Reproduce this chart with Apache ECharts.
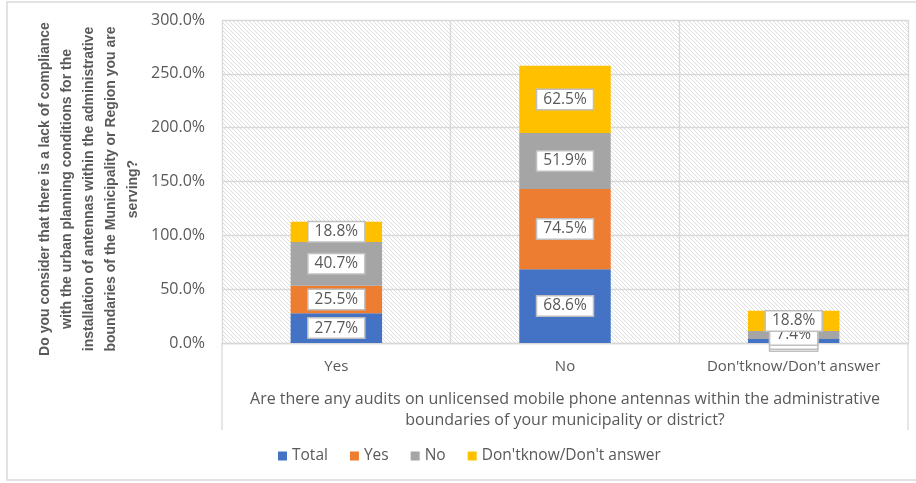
<!DOCTYPE html>
<html>
<head>
<meta charset="utf-8">
<script src="https://cdn.jsdelivr.net/npm/echarts@6/dist/echarts.min.js"></script>
<style>
  html, body { margin: 0; padding: 0; background: #ffffff; }
  #chart { width: 916px; height: 483px; }
</style>
</head>
<body>
<div id="chart"></div>
<script>
// Answers to the audit question (x axis categories)
const categories = ['Yes', 'No', "Don'tknow/Don't answer"];

// Answers to the compliance question, one stacked series each (percent)
const seriesNames = ['Total', 'Yes', 'No', "Don'tknow/Don't answer"];
const totalValues = [27.7, 68.6, 3.7];
const yesValues = [25.5, 74.5, 0.0];
const noValues = [40.7, 51.9, 7.4];
const dontKnowValues = [18.8, 62.5, 18.8];

// Value axis range
const yMin = 0;
const yMax = 300;
const yStep = 50;

const xTitle = 'Are there any audits on unlicensed mobile phone antennas within the administrative\nboundaries of your municipality or district?';
const yTitle = 'Do you consider that there is a lack of compliance\nwith the urban planning conditions for the\ninstallation of antennas within the administrative\nboundaries of the Municipality or Region you are\nserving?';

const colors = ['#4472C4', '#ED7D31', '#A5A5A5', '#FFC000'];
const textColor = '#595959';
const lineColor = '#d9d9d9';
const font = '"Open Sans", "Liberation Sans", sans-serif';
const boldFont = '"Liberation Sans", Arial, sans-serif';

// light downward-diagonal hatch used as the plot background
function hatchPattern() {
  const c = document.createElement('canvas');
  c.width = 4; c.height = 4;
  const g = c.getContext('2d');
  g.fillStyle = '#ffffff';
  g.fillRect(0, 0, 4, 4);
  g.fillStyle = '#dedede';
  for (let i = 0; i < 4; i++) g.fillRect(i, i, 1, 1);
  return c;
}

const gridL = 222, gridR = 8, gridT = 20, gridB = 140;
const W = 916, H = 483;

const chart = echarts.init(document.getElementById('chart'), null, { renderer: 'canvas' });

const valueLists = [totalValues, yesValues, noValues, dontKnowValues];

chart.setOption({
  animation: false,
  color: colors,
  textStyle: { fontFamily: font },
  grid: {
    left: gridL, right: gridR, top: gridT, bottom: gridB,
    show: true,
    borderWidth: 0,
    backgroundColor: { image: hatchPattern(), repeat: 'repeat' }
  },
  legend: {
    data: seriesNames,
    left: 273,
    top: 443,
    itemWidth: 9,
    itemHeight: 9,
    itemGap: 22,
    icon: 'rect',
    textStyle: { color: textColor, fontSize: 15.5, fontFamily: font }
  },
  xAxis: {
    type: 'category',
    data: categories,
    axisLine: { show: true, lineStyle: { color: lineColor, width: 1.3 } },
    axisTick: { show: false },
    splitLine: { show: true, interval: 0, lineStyle: { color: lineColor, width: 1.3 } },
    axisLabel: { color: textColor, fontSize: 15, margin: 16, fontFamily: font },
    name: xTitle,
    nameLocation: 'middle',
    nameGap: 46,
    nameTextStyle: { color: textColor, fontSize: 16, lineHeight: 21, fontFamily: font, align: 'center', verticalAlign: 'top' }
  },
  yAxis: {
    type: 'value',
    min: yMin,
    max: yMax,
    interval: yStep,
    axisLine: { show: false },
    axisTick: { show: false },
    splitLine: { show: true, lineStyle: { color: lineColor, width: 1.3 } },
    axisLabel: {
      color: textColor, fontSize: 16, margin: 17, fontFamily: font,
      formatter: v => v.toFixed(1) + '%'
    }
  },
  graphic: [
    { type: 'rect', shape: { x: 7, y: 2, width: W, height: 478 }, style: { fill: 'none', stroke: lineColor, lineWidth: 1.5 }, silent: true },
    { type: 'line', shape: { x1: gridL, y1: H - gridB, x2: gridL, y2: 430 }, style: { stroke: lineColor, lineWidth: 1.3 }, silent: true },
    { type: 'line', shape: { x1: W - gridR, y1: H - gridB, x2: W - gridR, y2: 430 }, style: { stroke: lineColor, lineWidth: 1.3 }, silent: true },
    {
      type: 'text', x: 89, y: 189, rotation: Math.PI / 2, silent: true,
      style: {
        text: yTitle, fill: textColor, font: 'bold 14px ' + boldFont,
        lineHeight: 22, align: 'center', verticalAlign: 'middle'
      }
    }
  ],
  series: seriesNames.map((name, i) => ({
    name: name,
    type: 'bar',
    stack: 'all',
    barWidth: '40%',
    data: valueLists[i],
    label: {
      show: true,
      position: 'inside',
      formatter: p => p.value.toFixed(1) + '%',
      color: textColor,
      fontSize: 15.5,
      fontFamily: font,
      backgroundColor: '#ffffff',
      borderColor: '#bfbfbf',
      borderWidth: 1.5,
      padding: [2, 6, 1, 6]
    }
  }))
});
</script>
</body>
</html>
